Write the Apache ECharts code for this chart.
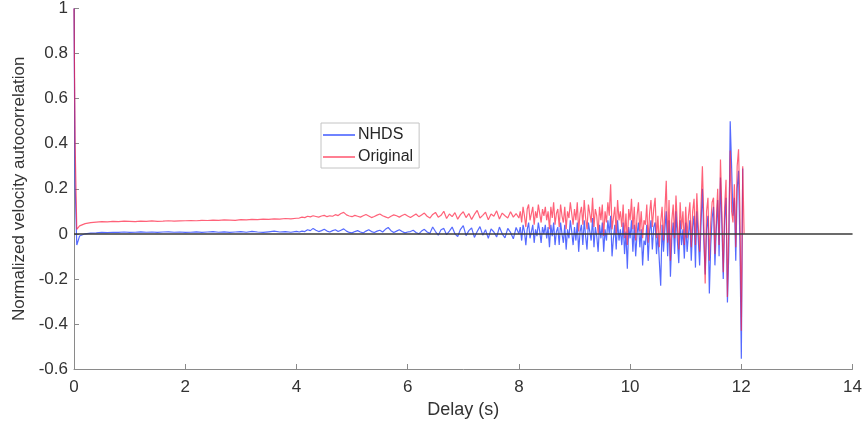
<!DOCTYPE html>
<html>
<head>
<meta charset="utf-8">
<script src="https://cdn.jsdelivr.net/npm/echarts@6/dist/echarts.min.js"></script>
<style>html,body{margin:0;padding:0;background:#fff}#c{width:865px;height:429px}</style>
</head>
<body>
<div id="c"></div>
<script>
// --- Data ---
var xTicks = [0, 2, 4, 6, 8, 10, 12, 14];
var yTicks = [-0.6, -0.4, -0.2, 0, 0.2, 0.4, 0.6, 0.8, 1];
var seriesNames = ['NHDS', 'Original'];

// early samples (explicit delays)
var earlyDelays   = [0, 0.02, 0.05, 0.1, 0.2, 0.3];
var earlyNHDS     = [1.0, 0.22, -0.05, -0.01, 0.0, 0.003];
var earlyOriginal = [1.0, 0.40, 0.02, 0.035, 0.045, 0.05];

// section A: delays 0.4 .. 4.0 every 0.1 s
var aStart = 0.4, aStep = 0.1;
var aNHDS = [
  .004,.006,.005,.007,.006,.008,.006,.007,.009,.007,.008,.006,.008,.009,.007,.008,.006,
  .007,.009,.006,.008,.010,.007,.009,.006,.008,.010,.007,.011,.008,.006,.009,.012,.008,.010,.007,.011
];
var aOriginal = [
  .052,.054,.053,.055,.054,.056,.055,.054,.056,.055,.057,.055,.056,.058,.056,.057,.058,
  .059,.058,.060,.059,.061,.060,.062,.061,.060,.063,.062,.064,.063,.065,.064,.066,.065,.068,.066,.069
];

// section B: delays 4.05 .. 7.95 every 0.05 s
var bStart = 4.05, bStep = 0.05;
var bNHDS = [
  .008,.012,.010,.018,.014,.024,.016,.010,.014,.020,.012,.008,.014,.018,.010,.016,.022,.012,.006,.004,
  .010,.014,.008,.004,.012,.018,.010,.006,.012,.016,.008,.020,.028,.014,.006,.012,.018,.010,.004,.008,
  .010,.016,.006,.000,.012,.020,.008,.002,.030,.010,-.006,.018,.024,-.004,.012,.030,.000,-.012,.020,.036,
  -.008,.014,.026,-.016,.010,.032,-.006,.018,-.020,.022,.008,-.014,.030,.000,-.018,.024,.006,-.022,.028
];
var bOriginal = [
  .070,.074,.072,.078,.075,.080,.077,.074,.079,.082,.076,.080,.078,.085,.081,.090,.095,.084,.079,.076,
  .082,.078,.074,.080,.086,.079,.072,.077,.083,.088,.080,.075,.070,.078,.084,.080,.074,.081,.087,.079,
  .072,.080,.088,.076,.084,.092,.078,.070,.086,.095,.074,.082,.100,.068,.088,.076,.094,.065,.085,.098,
  .072,.090,.064,.086,.104,.070,.082,.096,.062,.088,.078,.102,.066,.092,.080,.070,.098,.074,.090
];

// section C: delays 8.000 .. 12.050 every 0.025 s
var cStart = 8.0, cStep = 0.025;
var cNHDS = [
  .00,.03,-.03,.04,.01,-.05,.02,.05,-.02,.01,.04,-.04,.02,-.01,.05,.01,-.04,.03,.00,.04,
  -.02,.03,-.06,.04,-.01,.05,-.05,.01,.03,-.05,.05,.00,-.04,.04,-.07,.02,-.02,.06,.01,-.05,
  .03,-.03,.05,-.08,.01,.04,-.05,.06,-.01,-.07,.05,.01,-.03,.07,-.06,.03,-.01,-.08,.04,-.02,
  .05,-.08,.02,-.03,.06,.00,.08,-.10,-.02,.04,-.07,.06,-.03,.02,-.05,.05,-.09,.01,-.155,.03,
  -.02,.06,-.08,.04,-.10,.00,.05,-.06,.02,-.14,-.03,-.05,.04,-.12,.01,.06,-.07,.03,.05,-.09,
  .00,-.12,-.23,.04,-.08,.02,.10,-.10,.06,-.19,-.02,.05,-.09,.10,-.03,-.13,.06,-.05,.02,-.11,
  .05,-.08,.00,.06,-.12,.03,.08,-.15,.10,-.02,-.14,.04,.20,-.03,-.18,.02,.08,-.265,-.05,.07,
  .12,-.14,.02,.15,-.10,.25,.04,-.20,.06,.16,-.305,-.08,.50,.30,.08,.16,-.12,.20,.28,-.05,
  -.555,.29
];
var cOriginal = [
  .07,.10,.05,.12,.08,.03,.11,.13,.06,.09,.12,.04,.10,.07,.13,.09,.05,.11,.08,.12,
  .06,.10,.02,.12,.07,.14,.04,.09,.11,.03,.13,.08,.05,.12,.02,.10,.07,.14,.09,.04,
  .11,.06,.14,.01,.09,.12,.04,.15,.07,.02,.13,.09,.05,.16,.03,.11,.08,.00,.12,.06,
  .13,-.01,.10,.05,.14,.08,.22,.02,.07,.12,.00,.15,.06,.10,.03,.13,-.02,.09,-.05,.11,
  .06,.155,.02,.12,-.03,.08,.14,.01,.10,-.02,.06,.04,.13,-.04,.09,.15,.03,.11,.16,-.02,
  .08,-.06,.05,.12,-.03,.10,.235,-.04,.15,-.12,.06,.13,-.02,.17,.04,-.07,.14,.02,.10,-.05,
  .12,-.02,.08,.14,-.06,.10,.155,-.05,.18,.04,-.08,.12,.30,.06,-.22,.10,.16,-.12,.05,.14,
  .16,-.09,.06,.20,-.05,.33,.10,-.17,.12,.24,-.28,.02,.37,.10,.05,.22,-.06,.30,.375,.10,
  -.43,.30,.00
];

function build(early, a, b, c) {
  var out = [];
  for (var i = 0; i < earlyDelays.length; i++) out.push([earlyDelays[i], early[i]]);
  for (var j = 0; j < a.length; j++) out.push([+(aStart + j * aStep).toFixed(3), a[j]]);
  for (var k = 0; k < b.length; k++) out.push([+(bStart + k * bStep).toFixed(3), b[k]]);
  for (var m = 0; m < c.length; m++) out.push([+(cStart + m * cStep).toFixed(3), c[m]]);
  return out;
}

var chart = echarts.init(document.getElementById('c'), null, {renderer: 'canvas'});
var font = 'Liberation Sans, Arial, sans-serif';
var axisColor = '#8a8a8a';

chart.setOption({
  animation: false,
  backgroundColor: '#ffffff',
  textStyle: {fontFamily: font},
  grid: {left: 74, right: 12, top: 8, bottom: 60, containLabel: false},
  legend: {
    data: seriesNames,
    orient: 'vertical',
    left: 321, top: 123,
    padding: [4, 6, 3, 2],
    itemGap: 6,
    itemWidth: 32, itemHeight: 2,
    icon: 'rect',
    borderColor: '#c4c4c4', borderWidth: 1,
    backgroundColor: '#fff',
    textStyle: {fontSize: 16, color: '#262626', fontFamily: font, padding: [0, 0, 0, -2]}
  },
  xAxis: {
    type: 'value', min: xTicks[0], max: xTicks[xTicks.length - 1], interval: 2,
    name: 'Delay (s)', nameLocation: 'middle', nameGap: 30,
    nameTextStyle: {fontSize: 18, color: '#333', fontFamily: font},
    axisLine: {onZero: false, lineStyle: {color: axisColor, width: 1}},
    axisTick: {inside: true, length: 5, lineStyle: {color: axisColor}},
    axisLabel: {fontSize: 17, color: '#333', margin: 10, fontFamily: font},
    splitLine: {show: false}
  },
  yAxis: {
    type: 'value', min: yTicks[0], max: yTicks[yTicks.length - 1], interval: 0.2,
    name: 'Normalized velocity autocorrelation', nameLocation: 'middle', nameGap: 44,
    nameTextStyle: {fontSize: 17, color: '#333', fontFamily: font},
    axisLine: {show: true, lineStyle: {color: axisColor, width: 1}},
    axisTick: {show: true, inside: true, length: 5, lineStyle: {color: axisColor}},
    axisLabel: {fontSize: 17, color: '#333', margin: 6, fontFamily: font,
      formatter: function (v) { return String(+v.toFixed(1)); }},
    splitLine: {show: false}
  },
  series: [
    {
      name: seriesNames[0], type: 'line', showSymbol: false, symbol: 'none',
      data: build(earlyNHDS, aNHDS, bNHDS, cNHDS),
      lineStyle: {color: '#2a45ff', width: 1.2, opacity: 0.8},
      itemStyle: {color: '#6f83ff'},
      z: 2,
      markLine: {
        silent: true, symbol: 'none', label: {show: false},
        lineStyle: {color: '#3a3a3a', width: 1.5, type: 'solid'},
        data: [{yAxis: 0}]
      }
    },
    {
      name: seriesNames[1], type: 'line', showSymbol: false, symbol: 'none',
      data: build(earlyOriginal, aOriginal, bOriginal, cOriginal),
      lineStyle: {color: '#ff1f40', width: 1.2, opacity: 0.7},
      itemStyle: {color: '#ff7f92'},
      z: 3
    }
  ]
});
</script>
</body>
</html>
